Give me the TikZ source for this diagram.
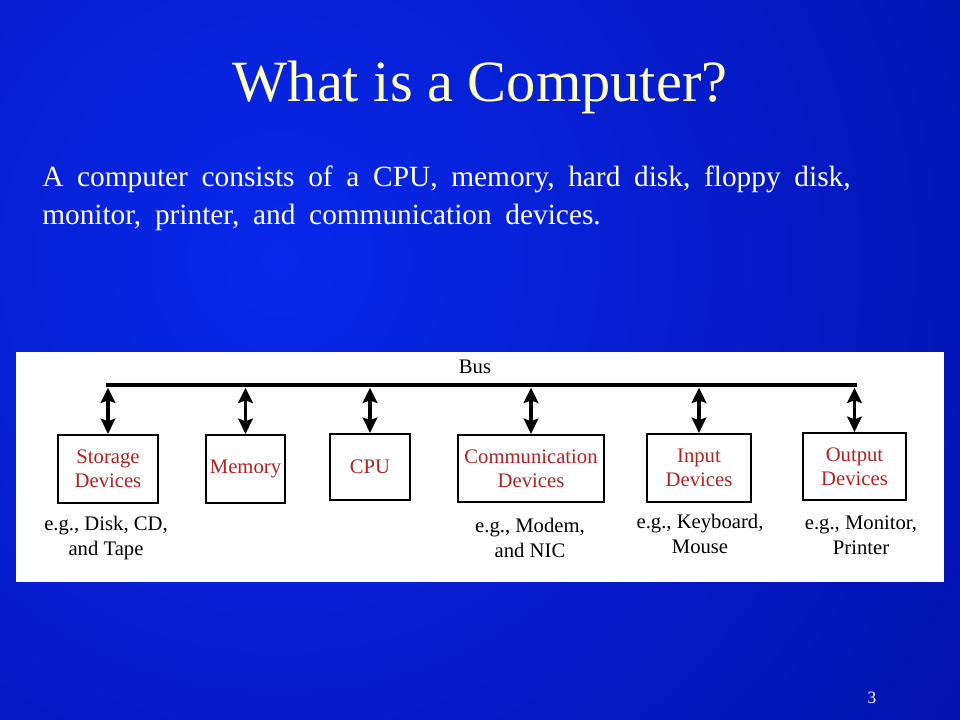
\documentclass[tikz,border=0pt]{standalone}
\usepackage{fontspec}
\setmainfont{Liberation Serif}
\usetikzlibrary{arrows.meta}
\newdimen\pxu \pxu=0.75pt
\definecolor{bgbright}{RGB}{8,40,235}
\definecolor{bgdark}{RGB}{0,0,125}
\definecolor{titlecol}{RGB}{255,255,204}
\definecolor{boxred}{RGB}{178,34,34}
\newcommand{\widespaces}{\spaceskip=10.3pt\relax}
\tikzset{
  devbox/.style={draw=black, line width=1.6pt, fill=white, align=center, text=boxred,
     font=\fontsize{15.5pt}{18pt}\selectfont, inner sep=0pt},
  note/.style={align=center, text=black, font=\fontsize{15.5pt}{18.5pt}\selectfont, inner sep=0pt, anchor=base},
  busline/.style={line width=3pt, line cap=rect},
  biarrow/.style={line width=2.5pt, {Stealth[length=11.5pt,width=11pt,inset=2pt]}-{Stealth[length=11.5pt,width=11pt,inset=2pt]}, shorten <=0.5pt},
  bodytext/.style={anchor=base west, text=white, inner sep=0pt, font=\fontsize{22pt}{26pt}\selectfont}
}
\begin{document}
\begin{tikzpicture}[x=0.75pt,y=-0.75pt]
\useasboundingbox (0,0) rectangle (960,720);
% background
\begin{scope}
  \clip (0,0) rectangle (960,720);
  \shade[inner color=bgbright, outer color=bgdark] (280-1500,260-1500) rectangle (280+1500,260+1500);
\end{scope}
% title and text
\node[anchor=base, text=titlecol, inner sep=0pt, font=\fontsize{43.8pt}{50pt}\selectfont] (title) at (480,102) {What is a Computer?};
\node[bodytext] (body1) at (42,187) {\widespaces A computer consists of a CPU, memory, hard disk, floppy disk,};
\node[bodytext] (body2) at (42,225) {\widespaces monitor, printer, and communication devices.};
% panel
\node[fill=white, draw=none, minimum width=928\pxu, minimum height=230\pxu, inner sep=0pt, anchor=north west] (panel) at (16,352) {};
% boxes
\node[devbox, minimum width=100\pxu, minimum height=68\pxu] (sto) at (108,469) {Storage\\Devices};
\node[devbox, minimum width=79\pxu, minimum height=68\pxu] (mem) at (245.5,469) {Memory};
\node[devbox, minimum width=80\pxu, minimum height=66\pxu] (cpu) at (370,467) {CPU};
\node[devbox, minimum width=146\pxu, minimum height=67\pxu] (com) at (531,468.5) {Communication\\Devices};
\node[devbox, minimum width=104\pxu, minimum height=68\pxu] (inp) at (699,468) {Input\\Devices};
\node[devbox, minimum width=103\pxu, minimum height=67\pxu] (out) at (854.5,466.5) {Output\\Devices};
% bus
\coordinate (busy) at (0,385);
\draw[busline] (sto.north |- busy) -- (out.north |- busy);
\node[anchor=base, inner sep=0pt, font=\fontsize{15.5pt}{18pt}\selectfont] (buslabel) at (475,373) {Bus};
\foreach \b in {sto,mem,cpu,com,inp,out}{
  \draw[biarrow] ([yshift=-1.5pt]\b.north |- busy) -- (\b.north);
}
% notes (anchor = baseline of last line)
\node[note] (nsto) at (106,555) {e.g., Disk, CD,\\and Tape};
\node[note] (ncom) at (530,557) {e.g., Modem,\\and NIC};
\node[note] (ninp) at (700,553) {e.g., Keyboard,\\Mouse};
\node[note] (nout) at (861,554) {e.g., Monitor,\\Printer};
% page number
\node[anchor=base, text=white, inner sep=0pt, font=\fontsize{13pt}{15pt}\selectfont] (pnum) at (872,703) {3};
\end{tikzpicture}
\end{document}
